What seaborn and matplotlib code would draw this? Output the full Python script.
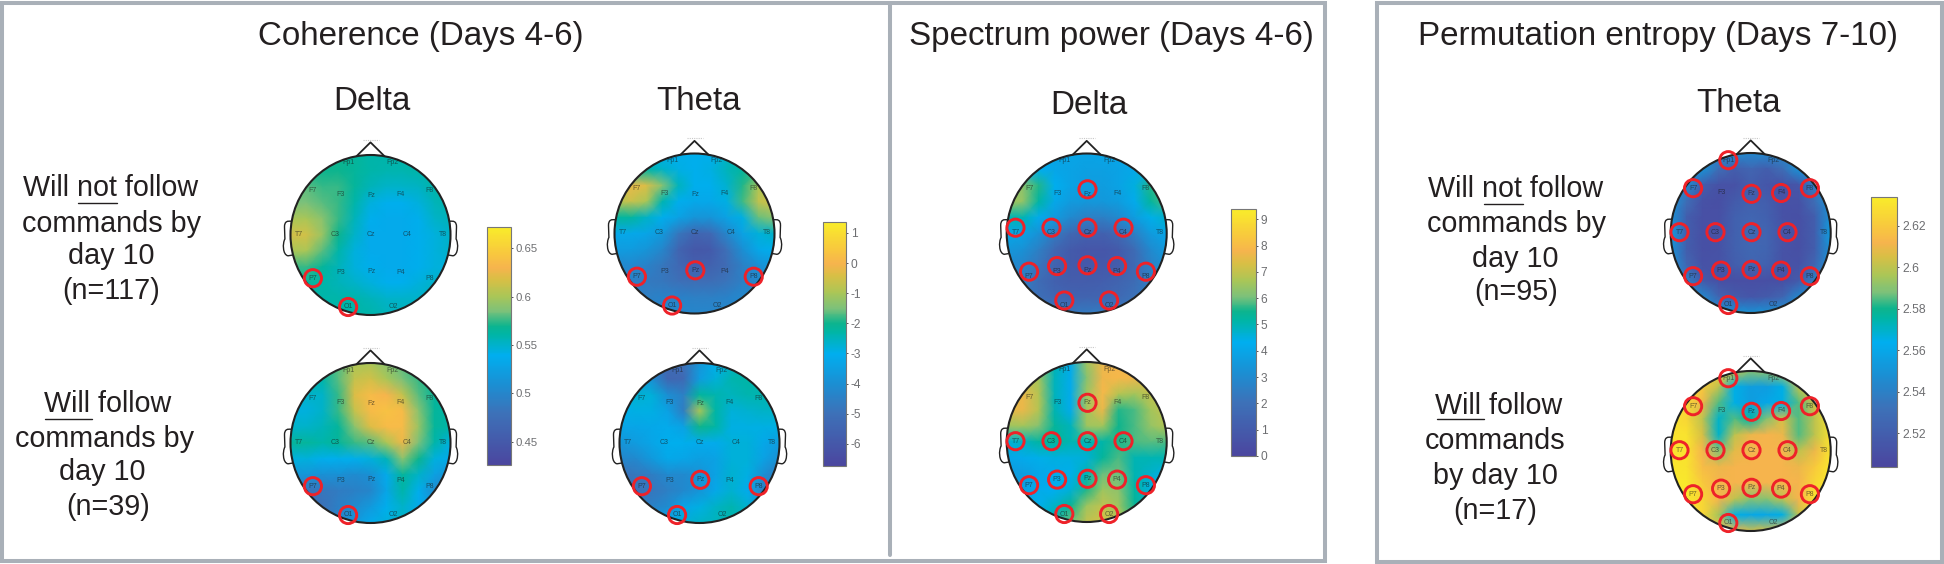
import numpy as np
import seaborn as sns
import matplotlib
matplotlib.use("Agg")
import matplotlib.pyplot as plt
from matplotlib.colors import LinearSegmentedColormap
from matplotlib.patches import Circle, PathPatch, Rectangle
from matplotlib.path import Path

coh_delta_top = [
    [.57, .57, .57, .57, .565, .56, .56, .56, .56, .56, .56],
    [.57, .57, .57, .57, .565, .56, .558, .558, .56, .56, .56],
    [.58, .58, .575, .575, .565, .555, .55, .55, .552, .56, .56],
    [.585, .585, .58, .575, .56, .545, .54, .54, .545, .555, .56],
    [.60, .60, .59, .575, .555, .54, .535, .535, .54, .55, .555],
    [.615, .615, .595, .57, .55, .535, .535, .535, .54, .545, .55],
    [.60, .60, .58, .56, .545, .535, .535, .535, .54, .545, .55],
    [.575, .575, .565, .555, .545, .54, .535, .535, .54, .545, .545],
    [.565, .565, .56, .555, .55, .545, .54, .54, .545, .55, .55],
    [.56, .56, .56, .56, .56, .555, .55, .55, .55, .555, .555],
    [.56, .56, .56, .56, .56, .56, .555, .555, .555, .555, .555],
]
coh_delta_bottom = [
    [.56, .56, .57, .58, .60, .60, .59, .58, .57, .57, .57],
    [.56, .56, .56, .58, .61, .615, .60, .585, .575, .57, .57],
    [.55, .55, .55, .575, .62, .635, .63, .61, .58, .565, .565],
    [.545, .545, .55, .575, .61, .635, .64, .635, .59, .565, .56],
    [.55, .55, .555, .565, .59, .62, .635, .635, .595, .565, .56],
    [.565, .565, .56, .565, .575, .58, .60, .625, .585, .56, .545],
    [.545, .545, .54, .54, .54, .545, .555, .59, .57, .545, .535],
    [.515, .515, .51, .51, .505, .51, .535, .565, .55, .525, .51],
    [.48, .48, .485, .49, .495, .50, .53, .56, .54, .505, .49],
    [.47, .47, .48, .495, .505, .52, .54, .55, .535, .52, .51],
    [.47, .47, .48, .50, .52, .535, .545, .55, .54, .53, .52],
]
coh_theta_top = [
    [-3, -3, -3, -3, -3, -3, -3, -2.6, -2.3, -2.2, -2.2],
    [-2.5, -2.5, -2.3, -2.6, -2.9, -3, -2.9, -2.5, -2.2, -2, -2],
    [-1, -.2, -.4, -1.4, -2.5, -3, -3, -2.7, -1.9, -1, -1],
    [-.9, -.6, -1, -2.4, -3, -3.2, -3.2, -2.9, -1.8, -.7, -.5],
    [-2.2, -2.2, -2.6, -3, -3.4, -3.8, -3.8, -3.4, -2.9, -1.6, -1.3],
    [-3.2, -3.2, -3.3, -3.7, -4.8, -5.5, -5.3, -4.3, -3.4, -2.8, -2.6],
    [-3.6, -3.6, -3.8, -4.3, -5.5, -6, -5.9, -5, -4, -3.2, -3],
    [-4.2, -4.2, -4.4, -4.8, -5.3, -5.7, -5.6, -5.2, -4.5, -4, -3.6],
    [-4.4, -4.4, -4.7, -4.8, -5, -5.1, -5.1, -4.9, -4.5, -4.2, -4],
    [-4.5, -4.5, -4.5, -4.4, -4.4, -4.5, -4.5, -4.4, -4.2, -4, -4],
    [-4.5, -4.5, -4.5, -4.3, -4.3, -4.3, -4.3, -4.3, -4.1, -4, -4],
]
coh_theta_bottom = [
    [-4, -4, -4.5, -5.2, -5, -3.8, -3, -2.6, -2.4, -2.4, -2.4],
    [-3.5, -3.5, -4, -5.4, -5.3, -3.6, -2.8, -2.4, -2.3, -2.4, -2.4],
    [-2.8, -2.7, -2.8, -4, -4.5, -2.2, -2.4, -2.5, -2.4, -2.4, -2.4],
    [-3, -2.9, -2.9, -3.4, -4.6, -1.0, -2.3, -2.8, -2.7, -2.6, -2.6],
    [-3.3, -3.3, -3.2, -3.1, -3.4, -2.0, -2.3, -2.9, -2.9, -2.9, -2.9],
    [-3.8, -3.6, -3.3, -3, -3, -3.1, -3.1, -2.8, -2.8, -3.2, -3.6],
    [-4.3, -4.2, -3.7, -3.2, -3.3, -3.5, -3.4, -2.8, -2.8, -3.4, -4],
    [-5, -4.8, -4.6, -4.2, -4.2, -3.9, -3.4, -2.7, -2.9, -4, -4.7],
    [-5.2, -5, -4.8, -4.5, -4.2, -3.8, -3.2, -2.7, -3.1, -4.6, -4.8],
    [-4.6, -4.6, -4.4, -4.1, -3.3, -2.9, -2.6, -2.4, -2.7, -3.4, -3.6],
    [-4, -4, -3.6, -3.1, -2.8, -2.6, -2.5, -2.4, -2.6, -3, -3],
]
spec_delta_top = [
    [4, 4, 4, 4, 4, 3.9, 4, 4, 4, 4, 4],
    [4.3, 4.3, 4.3, 4, 3.9, 3.8, 3.8, 3.9, 4.1, 4.3, 4.3],
    [6.3, 6.3, 5.6, 4.3, 3.9, 3.7, 3.7, 3.9, 4.5, 5.6, 6],
    [6.6, 6.4, 5.2, 4.1, 3.6, 3.5, 3.5, 3.7, 4.2, 5.3, 5.8],
    [5, 5, 4.2, 3.6, 3, 2.6, 2.6, 3, 3.7, 4.4, 4.7],
    [4, 3.9, 3.3, 2.4, 1.6, 1.3, 1.3, 1.7, 2.6, 3.6, 4],
    [3.5, 3.3, 2.6, 1.6, 1, .8, .8, 1, 1.8, 3, 3.6],
    [3, 2.8, 2.2, 1.4, 1, .9, .9, 1.1, 1.7, 2.6, 3.4],
    [2.7, 2.5, 1.8, 1.3, 1.1, 1.1, 1.2, 1.4, 1.8, 2.5, 3],
    [2.6, 2.4, 2, 1.6, 1.4, 1.4, 1.5, 1.7, 2.1, 2.6, 2.8],
    [2.7, 2.6, 2.5, 2.4, 2.3, 2.4, 2.4, 2.4, 2.5, 2.7, 2.8],
]
spec_delta_bottom = [
    [7, 7, 6.5, 5, 4.2, 6.5, 7.6, 7.8, 7.6, 7.4, 7.4],
    [7, 7, 6.6, 4.9, 4.2, 6.2, 7.7, 7.9, 7.7, 7.4, 7.2],
    [7.5, 7.6, 6.8, 4.9, 4.2, 6.5, 7.9, 6.8, 6.6, 7, 7],
    [7.5, 7.6, 6.8, 5, 4.2, 6.6, 7.6, 5.6, 5.8, 6.6, 7],
    [6.5, 6.6, 6.2, 5.3, 4.9, 6.5, 6.6, 5.5, 5.8, 6.4, 6.8],
    [4.6, 4.8, 5.2, 5.3, 5, 5, 5.1, 5.6, 5.8, 5.9, 5.8],
    [4, 4.2, 4.4, 4.5, 4.5, 4.6, 5.3, 5.8, 5, 5, 5],
    [3.6, 3.7, 4, 4.2, 4.4, 5, 6, 6, 5, 4.7, 4.4],
    [3.6, 3.8, 4.2, 4.3, 4.6, 5.6, 6.5, 6.3, 5.2, 4.5, 4.3],
    [4, 4.2, 4.4, 4.8, 5.4, 6.5, 7, 6.5, 5.4, 4.8, 4.6],
    [4.5, 4.5, 4.8, 5.2, 6, 7, 7.2, 6.8, 5.8, 5, 4.8],
]
perm_theta_top = [
    [2.545, 2.545, 2.545, 2.545, 2.545, 2.545, 2.545, 2.545, 2.545, 2.545, 2.545],
    [2.55, 2.55, 2.55, 2.53, 2.52, 2.525, 2.52, 2.53, 2.55, 2.55, 2.55],
    [2.55, 2.545, 2.52, 2.512, 2.512, 2.52, 2.515, 2.512, 2.515, 2.54, 2.55],
    [2.55, 2.53, 2.512, 2.51, 2.518, 2.522, 2.52, 2.512, 2.512, 2.53, 2.55],
    [2.55, 2.52, 2.511, 2.511, 2.522, 2.525, 2.522, 2.512, 2.511, 2.52, 2.55],
    [2.555, 2.52, 2.511, 2.512, 2.522, 2.526, 2.524, 2.514, 2.511, 2.52, 2.555],
    [2.55, 2.52, 2.511, 2.512, 2.522, 2.526, 2.524, 2.513, 2.511, 2.52, 2.55],
    [2.55, 2.525, 2.512, 2.513, 2.52, 2.524, 2.522, 2.513, 2.512, 2.525, 2.55],
    [2.55, 2.54, 2.518, 2.511, 2.51, 2.51, 2.51, 2.51, 2.518, 2.54, 2.55],
    [2.55, 2.55, 2.545, 2.525, 2.518, 2.515, 2.518, 2.525, 2.545, 2.55, 2.55],
    [2.55, 2.55, 2.55, 2.55, 2.55, 2.55, 2.55, 2.55, 2.55, 2.55, 2.55],
]
perm_theta_bottom = [
    [2.625, 2.625, 2.625, 2.62, 2.60, 2.59, 2.59, 2.60, 2.62, 2.625, 2.625],
    [2.63, 2.63, 2.62, 2.60, 2.565, 2.555, 2.555, 2.565, 2.60, 2.62, 2.63],
    [2.63, 2.625, 2.61, 2.585, 2.565, 2.555, 2.56, 2.565, 2.585, 2.605, 2.625],
    [2.63, 2.625, 2.60, 2.57, 2.585, 2.575, 2.59, 2.605, 2.585, 2.60, 2.63],
    [2.63, 2.63, 2.605, 2.57, 2.60, 2.61, 2.612, 2.61, 2.585, 2.60, 2.63],
    [2.63, 2.63, 2.612, 2.59, 2.608, 2.612, 2.612, 2.612, 2.60, 2.61, 2.63],
    [2.632, 2.63, 2.615, 2.61, 2.612, 2.612, 2.612, 2.612, 2.61, 2.62, 2.632],
    [2.632, 2.632, 2.62, 2.612, 2.612, 2.612, 2.612, 2.612, 2.612, 2.625, 2.632],
    [2.632, 2.632, 2.625, 2.612, 2.60, 2.59, 2.59, 2.60, 2.612, 2.63, 2.632],
    [2.632, 2.632, 2.625, 2.595, 2.565, 2.56, 2.56, 2.565, 2.60, 2.63, 2.632],
    [2.632, 2.632, 2.62, 2.615, 2.61, 2.605, 2.605, 2.61, 2.62, 2.63, 2.632],
]

coh_delta_ticks = [0.45, 0.5, 0.55, 0.6, 0.65]
coh_theta_ticks = [-6, -5, -4, -3, -2, -1, 0, 1]
spec_delta_ticks = [0, 1, 2, 3, 4, 5, 6, 7, 8, 9]
perm_theta_ticks = [2.52, 2.54, 2.56, 2.58, 2.6, 2.62]

electrodes = ["Fp1", "Fp2", "F7", "F3", "Fz", "F4", "F8", "T7", "C3", "Cz", "C4", "T8",
              "P7", "P3", "Pz", "P4", "P8", "O1", "O2"]
elec_x = [-.28, .28, -.72, -.37, .01, .38, .74, -.89, -.44, .01, .46, .91,
          -.72, -.37, .01, .38, .74, -.28, .28]
elec_y = [-.91, -.91, -.56, -.50, -.49, -.50, -.56, -.01, -.01, -.01, -.01, -.01,
          .54, .47, .46, .47, .54, .90, .90]

marked_coh_delta = ["P7", "O1"]
marked_coh_theta = ["P7", "Pz", "P8", "O1"]
marked_spec = ["Fz", "T7", "C3", "Cz", "C4", "P7", "P3", "Pz", "P4", "P8", "O1", "O2"]
marked_perm = ["Fp1", "F7", "Fz", "F4", "F8", "T7", "C3", "Cz", "C4", "P7", "P3", "Pz", "P4", "P8", "O1"]

# colours of the scale bar, bottom to top
cmap = LinearSegmentedColormap.from_list("head", [
    (0, "#4b469f"), (.215, "#3d71b8"), (.338, "#1b8fd3"), (.46, "#00aeef"),
    (.55, "#00b5a5"), (.585, "#0db48e"), (.647, "#7cc17a"), (.71, "#aac657"),
    (.78, "#d8bf45"), (.83, "#f6b44d"), (.89, "#f8c83e"), (1, "#f9ec2a")])

W, H = 1944, 564
sns.set_theme(style="white")
plt.rcParams["font.family"] = ["Liberation Sans", "DejaVu Sans"]
fig = plt.figure(figsize=(W / 100, H / 100), dpi=100, facecolor="white")


def box(x0, y0, x1, y1):
    return [x0 / W, 1 - y1 / H, (x1 - x0) / W, (y1 - y0) / H]


# whole figure in pixels, for frames, text and head outlines
top = fig.add_axes([0, 0, 1, 1], zorder=5)
top.set_xlim(0, W)
top.set_ylim(H, 0)
top.axis("off")
top.patch.set_alpha(0)

R = 80
ink = "#231f20"


def head(values, cx, cy, marked, vmin, vmax, shift=0):
    ax = fig.add_axes(box(cx - R, cy - R, cx + R, cy + R), zorder=2)
    sns.heatmap(np.array(values), ax=ax, cmap=cmap, vmin=vmin, vmax=vmax, cbar=False,
                shading="gouraud", xticklabels=False, yticklabels=False, square=False)
    ax.set_xlim(0, 10)
    ax.set_ylim(10, 0)
    ax.axis("off")
    ax.collections[0].set_clip_path(Circle((5, 5), 5, transform=ax.transData))

    top.add_patch(Circle((cx, cy), R, fill=False, ec="#222222", lw=1.5))
    top.plot([cx - .175 * R, cx, cx + .175 * R],
             [cy - .985 * R, cy - 1.158 * R, cy - .985 * R], color="#222222", lw=1.3)
    top.plot([cx - .1 * R, cx + .1 * R], [cy - 1.19 * R] * 2, color="#c8c8c8", lw=.8, ls=(0, (1, 1)))
    for side in (-1, 1):
        pts = [(.985, -.17), (1.04, -.18), (1.075, -.17), (1.075, -.1), (1.07, .05),
               (1.10, .1), (1.10, .25), (1.03, .26), (.97, .25)]
        codes = [Path.MOVETO, Path.CURVE4, Path.CURVE4, Path.CURVE4, Path.LINETO,
                 Path.CURVE4, Path.CURVE4, Path.CURVE4, Path.LINETO]
        verts = [(cx + side * R * a, cy + R * b) for a, b in pts]
        top.add_patch(PathPatch(Path(verts, codes), fill=False, ec="#222222", lw=1.0))
    for name, x, y in zip(electrodes, elec_x, elec_y):
        top.text(cx + x * R, cy + y * R, name, fontsize=5, color="#1a1a1a", alpha=.6,
                 ha="center", va="center")
        if name in marked:
            top.add_patch(Circle((cx + x * R, cy + y * R + shift), 8.6, fill=False,
                                 ec="#ee2229", lw=2.1))


def scale(x0, y0, x1, y1, vmin, vmax, ticks, labels, fs):
    cax = fig.add_axes(box(x0, y0, x1, y1), zorder=2)
    holder = fig.add_axes([0, 0, .001, .001], zorder=0)
    sns.heatmap(np.array([[vmin, vmax]]), ax=holder, cmap=cmap, vmin=vmin, vmax=vmax, cbar=True,
                cbar_ax=cax, cbar_kws={"ticks": ticks}, xticklabels=False, yticklabels=False)
    cb = holder.collections[0].colorbar
    holder.set_visible(False)
    cb.set_ticklabels(labels)
    cax.tick_params(axis="y", right=True, direction="out", length=1.5, width=.7, color="#555555",
                    labelsize=fs, labelcolor="#6d6e71", pad=2)
    cb.outline.set_visible(True)
    cb.outline.set_edgecolor("#777777")
    cb.outline.set_linewidth(.8)


head(coh_delta_top, 370.5, 235, marked_coh_delta, .426, .672)
head(coh_delta_bottom, 370.5, 443, marked_coh_delta, .426, .672)
head(coh_theta_top, 694.5, 233.5, marked_coh_theta, -6.74, 1.365)
head(coh_theta_bottom, 699.5, 443, marked_coh_theta, -6.74, 1.365)
head(spec_delta_top, 1086.7, 233.5, marked_spec, 0, 9.39, shift=-5)
head(spec_delta_bottom, 1086.7, 442, marked_spec, 0, 9.39)
head(perm_theta_top, 1750.7, 233, marked_perm, 2.504, 2.634)
head(perm_theta_bottom, 1750.7, 451, marked_perm, 2.504, 2.634)

scale(487, 227, 510.5, 465, .426, .672, coh_delta_ticks, ["0.45", "0.5", "0.55", "0.6", "0.65"], 8.2)
scale(822.7, 222, 845.7, 466, -6.74, 1.365, coh_theta_ticks, [str(t) for t in coh_theta_ticks], 8.6)
scale(1230.7, 209, 1255.7, 456, 0, 9.39, spec_delta_ticks, [str(t) for t in spec_delta_ticks], 8.6)
scale(1870.7, 196.7, 1897.3, 466.7, 2.504, 2.634, perm_theta_ticks, ["2.52", "2.54", "2.56", "2.58", "2.6", "2.62"], 8.8)

# frames
frame = "#a9b0b8"
top.add_patch(Rectangle((2, 2.5), 1323, 558.5, fill=False, ec=frame, lw=2.9))
top.add_patch(Rectangle((1377, 2.5), 565, 559, fill=False, ec=frame, lw=2.9))
top.plot([890, 890], [4, 555], color=frame, lw=2.9)

# titles
for s, x, y in [("Coherence (Days 4-6)", 421, 36.5), ("Spectrum power (Days 4-6)", 1111, 36.5),
                ("Permutation entropy (Days 7-10)", 1658, 36.5)]:
    top.text(x, y, s, fontsize=23.9, color=ink, ha="center", va="center")
for s, x, y in [("Delta", 372, 101), ("Theta", 698, 101), ("Delta", 1089, 105), ("Theta", 1738, 103)]:
    top.text(x, y, s, fontsize=23.9, color=ink, ha="center", va="center")

# row labels
labels = [
    ("Will not follow", 111, 188), ("commands by", 111, 224), ("day 10", 111, 256), ("(n=117)", 111, 291),
    ("Will follow", 107.5, 404), ("commands by", 104, 439), ("day 10", 102.7, 472), ("(n=39)", 107.7, 507),
    ("Will not follow", 1516, 189), ("commands by", 1516, 224), ("day 10", 1515, 259), ("(n=95)", 1516, 292),
    ("Will follow", 1499, 406), ("commands", 1495, 441), ("by day 10", 1495, 476), ("(n=17)", 1495, 511),
]
for s, x, y in labels:
    top.text(x, y, s, fontsize=20.7, color=ink, ha="center", va="center")
for x0, x1, y in [(78, 117, 203), (45, 92, 418.7), (1484, 1522.7, 204), (1437, 1484, 419)]:
    top.plot([x0, x1], [y, y], color=ink, lw=1)

fig.savefig("out.png", dpi=100)
